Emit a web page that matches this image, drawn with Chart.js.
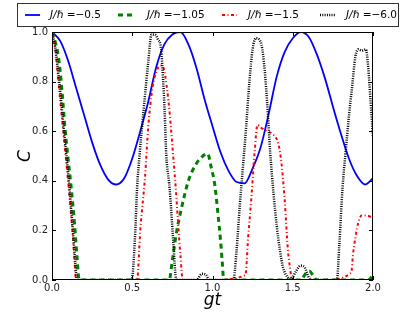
<!DOCTYPE html>
<html>
<head>
<meta charset="utf-8">
<script src="https://cdn.jsdelivr.net/npm/chart.js@4.4.1/dist/chart.umd.min.js"></script>
<style>
  html, body { margin: 0; padding: 0; background: #fff; }
  #wrap { width: 415px; height: 312px; }
</style>
</head>
<body>
<div id="wrap"><canvas id="grafico" width="415" height="312"></canvas></div>
<script>
// series labels
var seriesLabels = ["J/ℏ =−0.5", "J/ℏ =−1.05", "J/ℏ =−1.5", "J/ℏ =−6.0"];

// J/h = -0.5 (solid blue)
var tA = [0, 0.05, 0.10, 0.15, 0.20, 0.25, 0.30, 0.35, 0.40, 0.45, 0.50, 0.55, 0.60, 0.65, 0.70, 0.75, 0.80, 0.85, 0.90, 0.95, 1.00,
          1.05, 1.10, 1.15, 1.20, 1.25, 1.30, 1.35, 1.40, 1.45, 1.50, 1.55, 1.60, 1.65, 1.70, 1.75, 1.80, 1.85, 1.90, 1.95, 2.00];
var cA = [1.0, 0.965, 0.885, 0.775, 0.665, 0.555, 0.465, 0.405, 0.385, 0.41, 0.49, 0.60, 0.72, 0.86, 0.95, 0.99, 1.0, 0.95, 0.855, 0.73, 0.62,
          0.515, 0.44, 0.395, 0.39, 0.45, 0.535, 0.67, 0.82, 0.92, 0.975, 1.0, 0.98, 0.91, 0.815, 0.70, 0.59, 0.49, 0.42, 0.385, 0.41];

// J/h = -1.05 (dashed green)
var tB = [0, 0.02, 0.04, 0.06, 0.08, 0.10, 0.12, 0.14, 0.155, 0.17, 0.4, 0.73, 0.75, 0.775, 0.80, 0.85, 0.90, 0.94, 0.97,
          0.99, 1.015, 1.035, 1.05, 1.06, 1.07, 1.3, 1.55, 1.585, 1.605, 1.625, 1.65, 1.8, 1.97, 2.0];
var cB = [1.0, 0.96, 0.90, 0.78, 0.62, 0.49, 0.37, 0.23, 0.10, 0.0, 0.0, 0.0, 0.08, 0.19, 0.27, 0.40, 0.47, 0.50, 0.51,
          0.46, 0.38, 0.26, 0.16, 0.08, 0.0, 0.0, 0.0, 0.03, 0.035, 0.02, 0.0, 0.0, 0.0, 0.02];

// J/h = -1.5 (dash-dot red)
var tC = [0, 0.02, 0.04, 0.07, 0.10, 0.127, 0.14, 0.15, 0.3, 0.53, 0.55, 0.58, 0.60, 0.625, 0.65, 0.675, 0.695, 0.715, 0.735,
          0.755, 0.77, 0.785, 0.80, 0.815, 1.0, 1.205, 1.222, 1.242, 1.263, 1.28, 1.30, 1.34, 1.38, 1.41, 1.43, 1.45, 1.47,
          1.485, 1.495, 1.7, 1.865, 1.875, 1.89, 1.91, 1.93, 1.96, 2.0];
var cC = [1.0, 0.93, 0.80, 0.60, 0.40, 0.20, 0.08, 0.0, 0.0, 0.0, 0.20, 0.42, 0.62, 0.77, 0.84, 0.865, 0.855, 0.78, 0.66,
          0.50, 0.38, 0.235, 0.10, 0.0, 0.0, 0.02, 0.17, 0.33, 0.52, 0.625, 0.615, 0.60, 0.585, 0.55, 0.47, 0.32, 0.12,
          0.04, 0.0, 0.0, 0.03, 0.10, 0.17, 0.235, 0.26, 0.26, 0.25];

// J/h = -6.0 (dotted black)
var tD = [0, 0.02, 0.045, 0.075, 0.105, 0.13, 0.145, 0.155, 0.3, 0.496, 0.517, 0.53, 0.545, 0.57, 0.60, 0.62, 0.64, 0.66, 0.68,
          0.692, 0.702, 0.712, 0.733, 0.754, 0.775, 0.9, 0.935, 0.96, 0.98, 1.13, 1.15, 1.17, 1.19, 1.21, 1.23, 1.25, 1.27,
          1.30, 1.32, 1.34, 1.36, 1.38, 1.40, 1.42, 1.44, 1.47, 1.49, 1.52, 1.55, 1.575, 1.60, 1.62, 1.775, 1.79, 1.81, 1.83,
          1.85, 1.87, 1.89, 1.91, 1.93, 1.955, 1.97, 1.985, 2.0];
var cD = [1.0, 0.94, 0.80, 0.60, 0.40, 0.20, 0.07, 0.0, 0.0, 0.0, 0.17, 0.37, 0.50, 0.68, 0.88, 0.99, 0.99, 0.97, 0.93,
          0.81, 0.68, 0.505, 0.37, 0.17, 0.0, 0.0, 0.025, 0.02, 0.0, 0.0, 0.12, 0.30, 0.46, 0.62, 0.80, 0.93, 0.975,
          0.96, 0.88, 0.72, 0.51, 0.35, 0.22, 0.12, 0.05, 0.01, 0.005, 0.035, 0.058, 0.05, 0.01, 0.0, 0.0, 0.14, 0.37, 0.52,
          0.66, 0.78, 0.90, 0.93, 0.925, 0.93, 0.86, 0.72, 0.58];

// tick labels
var xTicks = [0.0, 0.5, 1.0, 1.5, 2.0];
var yTicks = [0.0, 0.2, 0.4, 0.6, 0.8, 1.0];

function puntos(ts, cs) {
    var out = [];
    for (var i = 0; i < ts.length; i++) {
        out.push({ x: ts[i], y: cs[i] });
    }
    return out;
}

var fontTicks = { family: "DejaVu Sans", size: 10 };

// legend drawn by hand, inside a frame, matplotlib-like
var legendaPlugin = {
    id: "legenda",
    afterDraw: function (chart) {
        var ctx = chart.ctx;
        var lineX = [25, 118, 222, 320];
        var textX = [50, 147, 248, 346];
        var y = 15;
        ctx.save();
        ctx.fillStyle = "#fff";
        ctx.fillRect(17.5, 3.5, 381, 23);
        ctx.strokeStyle = "#333";
        ctx.lineWidth = 1;
        ctx.setLineDash([]);
        ctx.strokeRect(17.5, 3.5, 381, 23);
        chart.data.datasets.forEach(function (ds, i) {
            ctx.save();
            ctx.strokeStyle = ds.borderColor;
            ctx.lineWidth = ds.borderWidth;
            ctx.setLineDash(ds.borderDash || []);
            ctx.beginPath();
            ctx.moveTo(lineX[i], y);
            ctx.lineTo(lineX[i] + 15, y);
            ctx.stroke();
            ctx.restore();
            var partes = ds.label.split(" ");
            ctx.fillStyle = "#000";
            ctx.textBaseline = "middle";
            ctx.font = "italic 10.5px 'DejaVu Sans'";
            ctx.fillText(partes[0], textX[i], y);
            var w = ctx.measureText(partes[0] + " ").width;
            ctx.font = "10.5px 'DejaVu Sans'";
            ctx.fillText(partes[1], textX[i] + w, y);
        });
        ctx.restore();
    }
};

// frame + inward tick marks on all four sides
var marcoPlugin = {
    id: "marco",
    afterDatasetsDraw: function (chart) {
        var ctx = chart.ctx;
        var a = chart.chartArea;
        var sx = chart.scales.x, sy = chart.scales.y;
        ctx.save();
        ctx.strokeStyle = "#000";
        ctx.lineWidth = 1;
        ctx.setLineDash([]);
        ctx.strokeRect(a.left + 0.5, a.top + 0.5, a.right - a.left - 1, a.bottom - a.top - 1);
        ctx.beginPath();
        xTicks.forEach(function (v) {
            var px = Math.round(sx.getPixelForValue(v)) + 0.5;
            ctx.moveTo(px, a.bottom); ctx.lineTo(px, a.bottom - 4);
            ctx.moveTo(px, a.top); ctx.lineTo(px, a.top + 4);
        });
        yTicks.forEach(function (v) {
            var py = Math.round(sy.getPixelForValue(v)) + 0.5;
            ctx.moveTo(a.left, py); ctx.lineTo(a.left + 4, py);
            ctx.moveTo(a.right, py); ctx.lineTo(a.right - 4, py);
        });
        ctx.stroke();
        ctx.restore();
    }
};

function cargaGrafico() {
    var grafico = document.getElementById("grafico").getContext("2d");
    new Chart(grafico, {
        type: "line",
        data: {
            datasets: [{
                label: seriesLabels[0],
                data: puntos(tA, cA),
                borderColor: "#0000ff",
                borderWidth: 1.8,
                borderDash: [],
                order: 4
            }, {
                label: seriesLabels[1],
                data: puntos(tB, cB),
                borderColor: "#008000",
                borderWidth: 3,
                borderDash: [5, 4],
                order: 3
            }, {
                label: seriesLabels[2],
                data: puntos(tC, cC),
                borderColor: "#ff0000",
                borderWidth: 2,
                borderDash: [3, 2.5, 1, 2.5],
                order: 2
            }, {
                label: seriesLabels[3],
                data: puntos(tD, cD),
                borderColor: "#000000",
                borderWidth: 2.5,
                borderDash: [1, 1.3],
                order: 1
            }]
        },
        options: {
            responsive: false,
            animation: false,
            devicePixelRatio: 1,
            layout: { padding: { left: 0, right: 42, top: 32, bottom: 0 } },
            elements: {
                point: { radius: 0, hoverRadius: 0 },
                line: { cubicInterpolationMode: "monotone", fill: false }
            },
            plugins: {
                legend: { display: false },
                tooltip: { enabled: false }
            },
            scales: {
                x: {
                    type: "linear",
                    min: 0,
                    max: 2,
                    grid: { display: false, drawTicks: false },
                    border: { display: false },
                    afterFit: function (s) { s.height = 32; },
                    afterBuildTicks: function (s) { s.ticks = xTicks.map(function (v) { return { value: v }; }); },
                    ticks: {
                        autoSkip: false,
                        maxRotation: 0,
                        padding: 2,
                        color: "#222",
                        font: fontTicks,
                        callback: function (v) { return Number(v).toFixed(1); }
                    },
                    title: {
                        display: true,
                        text: "gt",
                        color: "#000",
                        padding: { top: 0, bottom: 1 },
                        font: { family: "DejaVu Sans", size: 17, style: "italic" }
                    }
                },
                y: {
                    min: 0,
                    max: 1,
                    grid: { display: false, drawTicks: false },
                    border: { display: false },
                    afterFit: function (s) { s.width = 52; },
                    afterBuildTicks: function (s) { s.ticks = yTicks.map(function (v) { return { value: v }; }); },
                    ticks: {
                        autoSkip: false,
                        padding: 4,
                        color: "#222",
                        font: fontTicks,
                        callback: function (v) { return Number(v).toFixed(1); }
                    },
                    title: {
                        display: true,
                        text: "C",
                        color: "#000",
                        padding: { top: 15, bottom: 0 },
                        font: { family: "DejaVu Sans", size: 17, style: "italic" }
                    }
                }
            }
        },
        plugins: [marcoPlugin, legendaPlugin]
    });
}

window.onload = function () {
    "use strict";
    cargaGrafico();
};
</script>
</body>
</html>
